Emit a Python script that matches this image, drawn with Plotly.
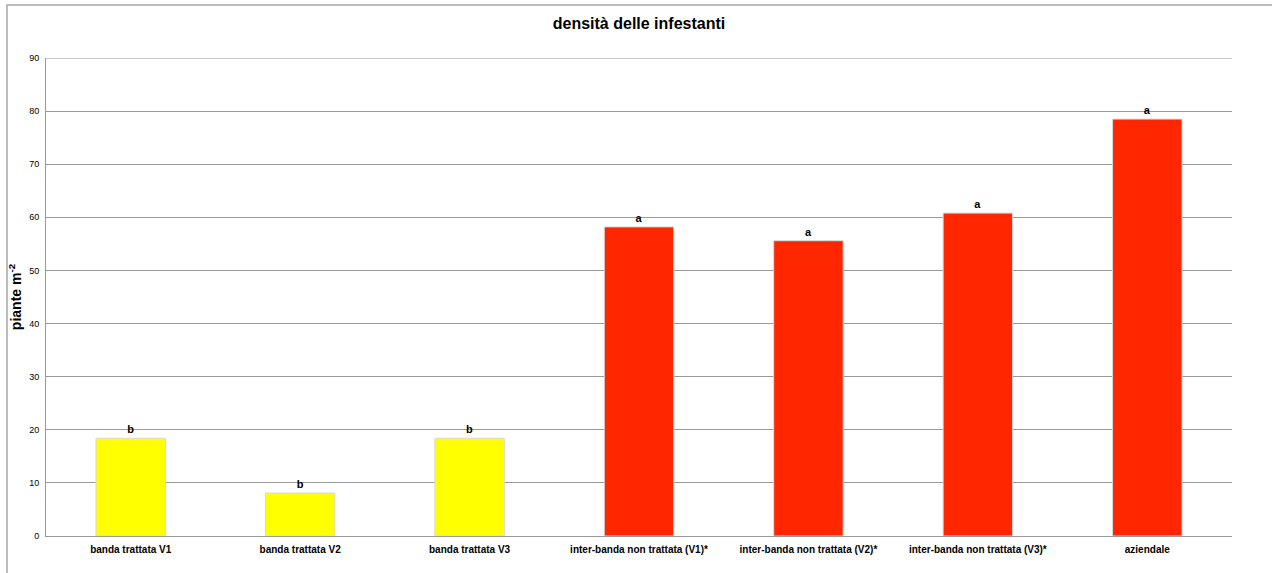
import plotly.graph_objects as go

categories = ["banda trattata V1", "banda trattata V2", "banda trattata V3",
              "inter-banda non trattata (V1)*", "inter-banda non trattata (V2)*",
              "inter-banda non trattata (V3)*", "aziendale"]
values = [18.4, 8.1, 18.4, 58.2, 55.6, 60.8, 78.5]
letters = ["b", "b", "b", "a", "a", "a", "a"]
colors = ["#FFFF00", "#FFFF00", "#FFFF00", "#FF2600", "#FF2600", "#FF2600", "#FF2600"]

fig = go.Figure(go.Bar(
    x=categories, y=values, text=letters, textposition="outside",
    textfont=dict(family="Liberation Sans, Arial", size=11, color="#000000", weight="bold"),
    marker=dict(color=colors, line=dict(color="#d9d9d9", width=1)),
    cliponaxis=False,
))

W, H = 1272, 573
ml, mr, mt, mb = 46, 40, 58, 37
pw, ph = W - ml - mr, H - mt - mb

fig.update_layout(
    width=W, height=H,
    margin=dict(l=ml, r=mr, t=mt, b=mb),
    paper_bgcolor="white", plot_bgcolor="white",
    bargap=0.59,
    showlegend=False,
    font=dict(family="Liberation Sans, Arial", color="#000000"),
    title=dict(text="<b>densità delle infestanti</b>", x=639 / W, xanchor="center",
               y=1 - 23 / H, yanchor="middle",
               font=dict(size=16, family="Liberation Sans, Arial")),
    xaxis=dict(showgrid=False, showline=True, linecolor="#999999", linewidth=1,
               tickfont=dict(size=10, weight="bold"), ticks="", ticklabelstandoff=4),
    yaxis=dict(range=[0, 90], dtick=10, showgrid=True, gridcolor="#999999", gridwidth=1,
               showline=True, linecolor="#999999", linewidth=1, zeroline=False,
               tickfont=dict(size=9), ticks="", ticklabelstandoff=4,
               title=dict(text="<b>piante m<sup>-2</sup></b>", font=dict(size=14), standoff=4)),
    shapes=[
        dict(type="rect", xref="paper", yref="paper",
             x0=(7 - ml) / pw, x1=(1290 - ml) / pw,
             y0=1 - (590 - mt) / ph, y1=1 + (mt - 5) / ph,
             line=dict(color="#a6a6a6", width=1.5), fillcolor="rgba(0,0,0,0)", layer="below"),
        dict(type="line", xref="paper", yref="y", x0=0, x1=1, y0=90, y1=90,
             line=dict(color="#999999", width=1), layer="below"),
    ],
)

fig.write_html("out.html")
